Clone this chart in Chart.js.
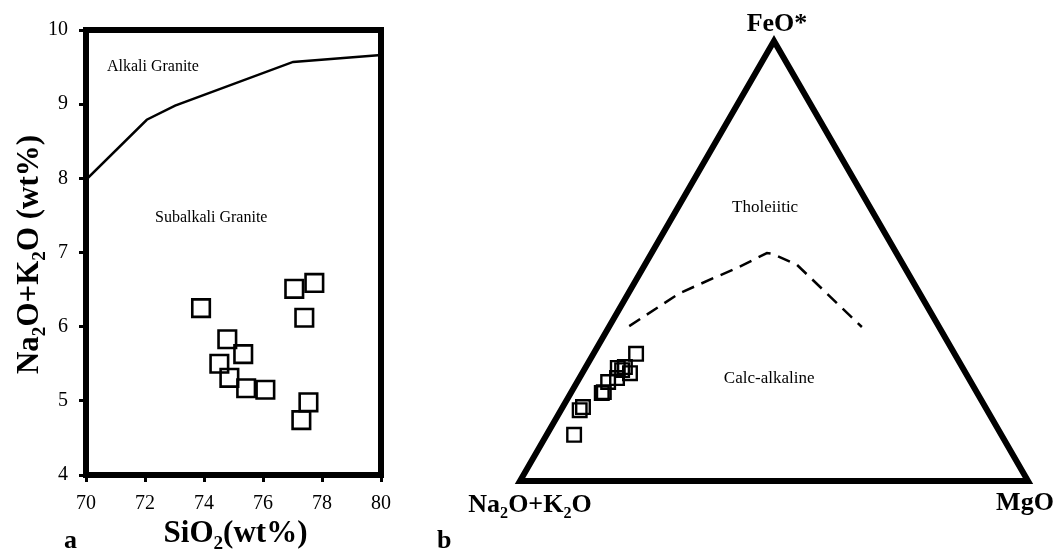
<!DOCTYPE html>
<html>
<head>
<meta charset="utf-8">
<script src="https://cdn.jsdelivr.net/npm/chart.js@4.4.1/dist/chart.umd.min.js"></script>
<style>
  html, body { margin: 0; padding: 0; background: #fff; }
  #wrap { position: relative; width: 1056px; height: 551px; overflow: hidden; }
  #c1 { position: absolute; left: 0; top: 0; }
  #c2 { position: absolute; left: 430px; top: 0; }
</style>
</head>
<body>
<div id="wrap">
  <canvas id="c1" width="430" height="551"></canvas>
  <canvas id="c2" width="626" height="551"></canvas>
</div>
<script>
// panel a: SiO2 vs Na2O+K2O
var sio2 = [73.9, 74.79, 75.33, 74.52, 74.86, 75.43, 76.08, 77.06, 77.74, 77.40, 77.54, 77.30];
var alkali = [6.25, 5.83, 5.63, 5.50, 5.31, 5.17, 5.15, 6.51, 6.59, 6.12, 4.98, 4.74];
// alkali / subalkali granite boundary
var lineSio2 = [70, 72.06, 73.02, 77.02, 79.9, 80];
var lineAlkali = [7.98, 8.79, 8.98, 9.57, 9.66, 9.66];
var xTicks = [70, 72, 74, 76, 78, 80];
var yTicks = [4, 5, 6, 7, 8, 9, 10];

// panel b: AFM ternary, percent (A = Na2O+K2O, F = FeO*, M = MgO)
var sampleA = [84.1, 80.2, 79.2, 73.9, 73.4, 71.4, 69.2, 67.9, 67.3, 66.1, 62.7, 66.4];
var sampleF = [10.5, 16.1, 16.8, 20.0, 20.2, 22.5, 23.4, 25.7, 25.2, 24.5, 28.9, 25.9];
var sampleM = [5.4, 3.7, 4.0, 6.1, 6.4, 6.1, 7.4, 6.4, 7.5, 9.4, 8.4, 7.7];
// tholeiitic / calc-alkaline divide
var divideF = [35.2, 42.7, 46.1, 48.4, 51.8, 51.6, 49.1, 35.0];
var divideM = [3.9, 10.1, 15.0, 18.5, 22.7, 24.0, 30.0, 49.8];

var serif = '"Liberation Serif", "Times New Roman", "DejaVu Serif", serif';

function xy(list1, list2) {
  return list1.map(function (v, i) { return { x: v, y: list2[i] }; });
}

// ternary -> cartesian, A at left, M at right, F on top
function tern(a, f, m) {
  var s = a + f + m;
  return { x: (m + f / 2) / s, y: (f / s) * Math.sqrt(3) / 2 };
}

function rich(ctx, parts, x, y, size, align) {
  var w = 0;
  parts.forEach(function (p) {
    ctx.font = 'bold ' + (p[1] ? size * 0.62 : size) + 'px ' + serif;
    w += ctx.measureText(p[0]).width;
  });
  var cx = align === 'center' ? x - w / 2 : x;
  ctx.textAlign = 'left';
  ctx.textBaseline = 'alphabetic';
  parts.forEach(function (p) {
    ctx.font = 'bold ' + (p[1] ? size * 0.62 : size) + 'px ' + serif;
    ctx.fillText(p[0], cx, p[1] ? y + size * 0.24 : y);
    cx += ctx.measureText(p[0]).width;
  });
}

var leftDeco = {
  id: 'leftDeco',
  afterDatasetsDraw: function (chart) {
    var ctx = chart.ctx, a = chart.chartArea, sx = chart.scales.x, sy = chart.scales.y;
    ctx.save();
    ctx.strokeStyle = '#000';
    ctx.lineWidth = 6;
    ctx.lineCap = 'square';
    ctx.beginPath();
    ctx.moveTo(a.left, a.top);
    ctx.lineTo(a.right, a.top);
    ctx.lineTo(a.right, a.bottom);
    ctx.stroke();

    ctx.fillStyle = '#000';
    ctx.font = '16px ' + serif;
    ctx.textAlign = 'left';
    ctx.textBaseline = 'alphabetic';
    ctx.fillText('Alkali Granite', sx.getPixelForValue(70.71), sy.getPixelForValue(9.45));
    ctx.fillText('Subalkali Granite', sx.getPixelForValue(72.34), sy.getPixelForValue(7.41));

    rich(ctx, [['SiO', 0], ['2', 1], ['(wt%)', 0]], (a.left + a.right) / 2 + 2, 542, 31, 'center');
    rich(ctx, [['a', 0]], 64, 548, 26, 'left');

    ctx.translate(38, (a.top + a.bottom) / 2 + 2);
    ctx.rotate(-Math.PI / 2);
    rich(ctx, [['Na', 0], ['2', 1], ['O+K', 0], ['2', 1], ['O (wt%)', 0]], 0, 0, 31, 'center');
    ctx.restore();
  }
};

var tickFont = { family: serif, size: 20 };

new Chart(document.getElementById('c1'), {
  type: 'scatter',
  data: {
    datasets: [{
      data: xy(lineSio2, lineAlkali),
      showLine: true,
      borderColor: '#000',
      borderWidth: 2.5,
      pointRadius: 0,
      tension: 0
    }, {
      data: xy(sio2, alkali),
      pointStyle: 'rect',
      pointRadius: 12.4,
      pointBorderWidth: 2.6,
      borderColor: '#000',
      backgroundColor: 'rgba(0,0,0,0)'
    }]
  },
  options: {
    responsive: false,
    animation: false,
    devicePixelRatio: 1,
    events: [],
    layout: { padding: { top: 30, right: 49, left: 0, bottom: 0 } },
    plugins: { legend: { display: false }, tooltip: { enabled: false } },
    scales: {
      x: {
        type: 'linear', min: 70, max: 80,
        afterBuildTicks: function (s) { s.ticks = xTicks.map(function (v) { return { value: v }; }); },
        ticks: { color: '#000', font: tickFont, padding: 10 },
        grid: { drawOnChartArea: false, drawTicks: true, tickLength: 7, color: '#000', lineWidth: 3 },
        border: { display: true, color: '#000', width: 6 },
        afterFit: function (s) { s.height = 76; }
      },
      y: {
        type: 'linear', min: 4, max: 10,
        afterBuildTicks: function (s) { s.ticks = yTicks.map(function (v) { return { value: v }; }); },
        ticks: { color: '#000', font: tickFont, padding: 11 },
        grid: { drawOnChartArea: false, drawTicks: true, tickLength: 7, color: '#000', lineWidth: 3 },
        border: { display: true, color: '#000', width: 6 },
        afterFit: function (s) { s.width = 86; }
      }
    }
  },
  plugins: [leftDeco]
});

var ternDeco = {
  id: 'ternDeco',
  afterDatasetsDraw: function (chart) {
    var ctx = chart.ctx, sx = chart.scales.x, sy = chart.scales.y;
    function px(a, f, m) {
      var p = tern(a, f, m);
      return { x: sx.getPixelForValue(p.x), y: sy.getPixelForValue(p.y) };
    }
    ctx.save();
    ctx.fillStyle = '#000';
    ctx.font = '17px ' + serif;
    ctx.textAlign = 'center';
    ctx.textBaseline = 'alphabetic';
    var t = px(21.2, 61.1, 17.7);
    ctx.fillText('Tholeiitic', t.x, t.y);
    var c = px(39.8, 22.3, 37.9);
    ctx.fillText('Calc-alkaline', c.x, c.y);

    var top = px(0, 100, 0), left = px(100, 0, 0), right = px(0, 0, 100);
    rich(ctx, [['FeO*', 0]], top.x + 3, top.y - 10, 26, 'center');
    rich(ctx, [['Na', 0], ['2', 1], ['O+K', 0], ['2', 1], ['O', 0]], left.x + 10, left.y + 31, 26, 'center');
    rich(ctx, [['MgO', 0]], right.x - 3, right.y + 29, 26, 'center');
    rich(ctx, [['b', 0]], 7, 548, 26, 'left');
    ctx.restore();
  }
};

var corners = [[100, 0, 0], [0, 0, 100], [0, 100, 0], [100, 0, 0], [0, 0, 100]];

new Chart(document.getElementById('c2'), {
  type: 'scatter',
  data: {
    datasets: [{
      data: corners.map(function (k) { return tern(k[0], k[1], k[2]); }),
      showLine: true,
      borderColor: '#000',
      borderWidth: 6,
      borderJoinStyle: 'miter',
      pointRadius: 0,
      tension: 0,
      clip: false
    }, {
      data: divideF.map(function (f, i) { return tern(100 - f - divideM[i], f, divideM[i]); }),
      showLine: true,
      borderColor: '#000',
      borderWidth: 2.5,
      borderDash: [13, 8],
      pointRadius: 0,
      tension: 0,
      clip: false
    }, {
      data: sampleA.map(function (a, i) { return tern(a, sampleF[i], sampleM[i]); }),
      pointStyle: 'rect',
      pointRadius: 9.6,
      pointBorderWidth: 2.4,
      borderColor: '#000',
      backgroundColor: 'rgba(0,0,0,0)',
      clip: false
    }]
  },
  options: {
    responsive: false,
    animation: false,
    devicePixelRatio: 1,
    events: [],
    layout: { padding: { left: 90, right: 28, top: 41, bottom: 70 } },
    plugins: { legend: { display: false }, tooltip: { enabled: false } },
    scales: {
      x: { type: 'linear', min: 0, max: 1, display: false },
      y: { type: 'linear', min: 0, max: Math.sqrt(3) / 2, display: false }
    }
  },
  plugins: [ternDeco]
});
</script>
</body>
</html>
